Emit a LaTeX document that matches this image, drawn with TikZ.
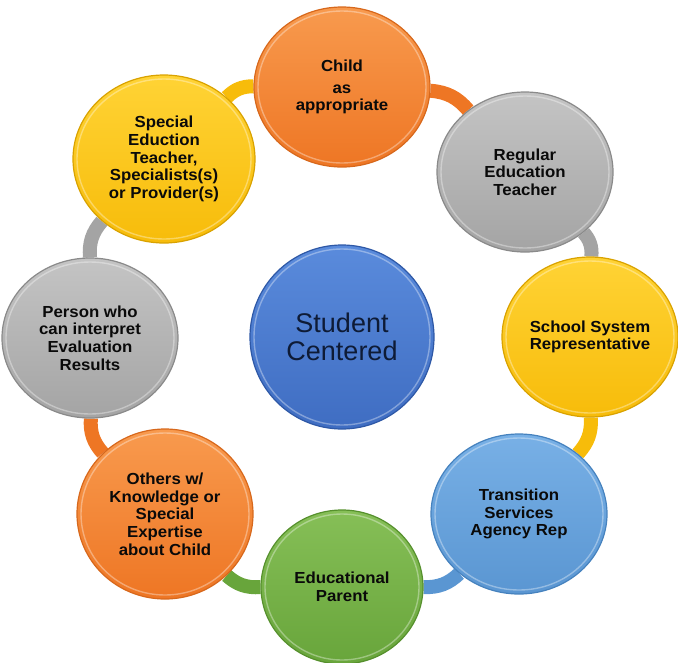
\documentclass[tikz,border=0pt]{standalone}
\usepackage{fontspec}
\setmainfont{Liberation Sans}
\newfontfamily\bubblefont{Liberation Sans}[FakeStretch=1.05]
\usetikzlibrary{shapes.geometric}
\pgfdeclarelayer{background}
\pgfsetlayers{background,main}

% palette
\definecolor{orTop}{HTML}{F89A4E}\definecolor{orBot}{HTML}{EE7624}\definecolor{orRim}{HTML}{D7681C}
\definecolor{grTop}{HTML}{C4C4C4}\definecolor{grBot}{HTML}{A4A4A4}\definecolor{grRim}{HTML}{8A8A8A}
\definecolor{yeTop}{HTML}{FFD335}\definecolor{yeBot}{HTML}{F7BC0A}\definecolor{yeRim}{HTML}{D9A200}
\definecolor{lbTop}{HTML}{78B0E6}\definecolor{lbBot}{HTML}{5A96D2}\definecolor{lbRim}{HTML}{4682BE}
\definecolor{gnTop}{HTML}{86BF57}\definecolor{gnBot}{HTML}{68A53B}\definecolor{gnRim}{HTML}{56902D}
\definecolor{cbTop}{HTML}{5A8BDC}\definecolor{cbBot}{HTML}{3F6DC2}\definecolor{cbRim}{HTML}{2E58A6}
\definecolor{ink}{HTML}{0A0A0A}
\definecolor{navy}{HTML}{0E1B36}

\tikzset{
  bubble/.style={ellipse, inner sep=0pt, minimum width=176pt, minimum height=160pt,
    align=center, text=ink, line width=1.2pt,
    font=\bubblefont\bfseries\fontsize{16}{17.7}\selectfont},
  orangeb/.style={bubble, top color=orTop, bottom color=orBot, draw=orRim},
  grayb/.style={bubble, top color=grTop, bottom color=grBot, draw=grRim},
  yellowb/.style={bubble, top color=yeTop, bottom color=yeBot, draw=yeRim},
  blueb/.style={bubble, top color=lbTop, bottom color=lbBot, draw=lbRim},
  greenb/.style={bubble, top color=gnTop, bottom color=gnBot, draw=gnRim},
  hub/.style={circle, inner sep=0pt, minimum size=184pt, align=center, text=navy,
    top color=cbTop, bottom color=cbBot, draw=cbRim, line width=1.2pt,
    font=\fontsize{27}{28}\selectfont},
  link/.style={line width=14pt, bend left=22.5},
  gloss/.style={white, opacity=.35, line width=1.4pt}
}

\begin{document}
\begin{tikzpicture}[x=1pt, y=-1pt]
\useasboundingbox (0,0) rectangle (678,662);

% ring members, clockwise from the top
\node[orangeb] (child)  at (342,87)  {Child\\[4pt]as\\appropriate};
\node[grayb]   (regular) at (525,172) {Regular\\Education\\Teacher};
\node[yellowb] (school) at (590,337) {School System\\Representative};
\node[blueb]   (transit) at (519,514) {Transition\\Services\\Agency Rep};
\node[greenb, minimum width=162pt, minimum height=154pt] (parent) at (342,587) {Educational\\Parent};
\node[orangeb, minimum height=170pt] (others) at (165,514) {Others w/\\Knowledge or\\Special\\Expertise\\about Child};
\node[grayb]   (person) at (90,338)  {Person who\\can interpret\\Evaluation\\Results};
\node[yellowb, minimum width=182pt, minimum height=168pt] (special) at (164,159) {Special\\Eduction\\Teacher,\\Specialists(s)\\or Provider(s)};

% centre
\node[hub] (centre) at (342,337) {Student\\Centered};

% bevel highlights just inside each rim
\foreach \n/\rx/\ry in {child/84/76, regular/84/76, school/84/76, transit/84/76,
                        parent/77/73, others/84/81, person/84/76, special/87/80, centre/88/88}
  \draw[gloss] (\n.center) ellipse [x radius=\rx, y radius=\ry];

% connecting ring, each arc in the colour of the member it leaves
\begin{pgfonlayer}{background}
  \draw[link, orBot] (child)   to (regular);
  \draw[link, grBot] (regular) to (school);
  \draw[link, yeBot] (school)  to (transit);
  \draw[link, lbBot] (transit) to (parent);
  \draw[link, gnBot] (parent)  to (others);
  \draw[link, orBot] (others)  to (person);
  \draw[link, grBot] (person)  to (special);
  \draw[link, yeBot] (special) to (child);
\end{pgfonlayer}
\end{tikzpicture}
\end{document}
